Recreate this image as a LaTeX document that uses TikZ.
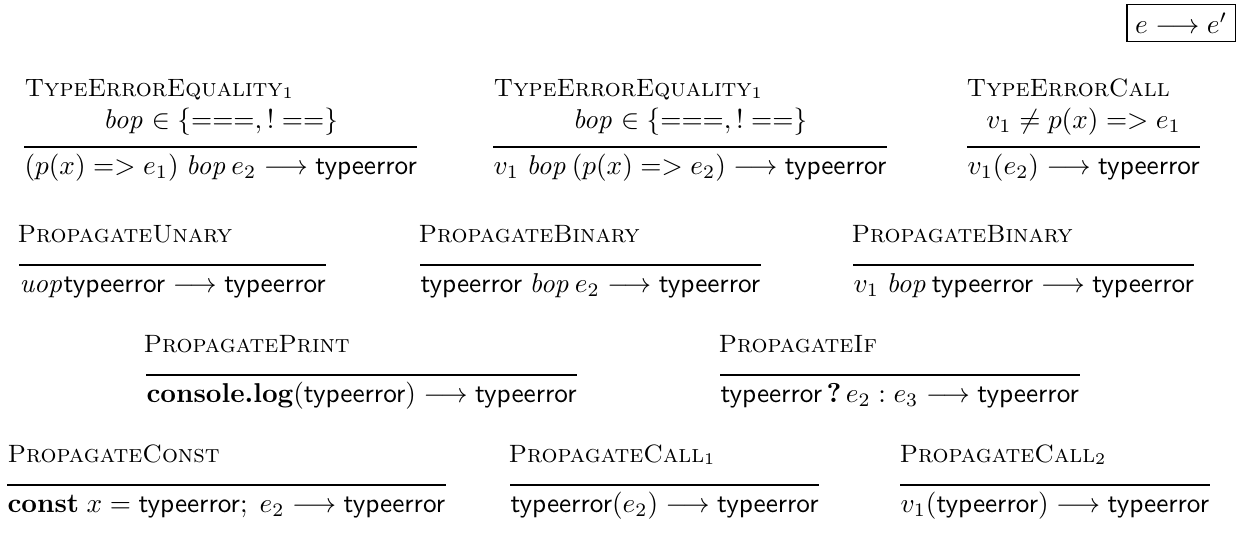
\documentclass[tikz,border=0pt]{standalone}
\usetikzlibrary{calc}
\tikzset{
	rulename/.style={anchor=base west, inner sep=0pt, font=\fontsize{9.2}{11}\selectfont},
	premise/.style={anchor=base, inner sep=0pt},
	concl/.style={anchor=base west, inner sep=0pt},
	ruleline/.style={color=black, line width=0.45pt},
	judgbox/.style={draw, line width=0.45pt, inner sep=3pt}
}
\newcommand{\terr}{\textsf{typeerror}}
\newcommand{\bopm}{\mathit{bop}}
\newcommand{\uopm}{\mathit{uop}}
\newcommand{\fatarr}{\mathrel{{=}{>}}}

\begin{document}
\begin{tikzpicture}[x=0.367pt,y=-0.367pt]
		\useasboundingbox (0,0) rectangle (1242,546);
		%%%judgement form
		\node[judgbox, anchor=north east] (judg) at (1236,4) {$e \longrightarrow e'$};
		
		%%%row 1
		\node[rulename] (n1) at (24,96) {\textsc{TypeErrorEquality}$_1$};
		\node[concl] (c1) at (24,174) {$(p(x) \fatarr e_1)\; \bopm\, e_2 \longrightarrow \terr$};
		\node[premise] (p1) at ($(c1.base)+(0,-46)$) {$\bopm \in \{===,!==\}$};
		\draw[ruleline] ($(c1.base west)+(0,-27)$) -- ($(c1.base east)+(0,-27)$);
		
		\node[rulename] (n2) at (493,96) {\textsc{TypeErrorEquality}$_1$};
		\node[concl] (c2) at (493,174) {$v_1\; \bopm\, (p(x) \fatarr e_2) \longrightarrow \terr$};
		\node[premise] (p2) at ($(c2.base)+(0,-46)$) {$\bopm \in \{===,!==\}$};
		\draw[ruleline] ($(c2.base west)+(0,-27)$) -- ($(c2.base east)+(0,-27)$);
		
		\node[rulename] (n3) at (966,96) {\textsc{TypeErrorCall}};
		\node[concl] (c3) at (967,174) {$v_1(e_2) \longrightarrow \terr$};
		\node[premise] (p3) at ($(c3.base)+(0,-46)$) {$v_1 \neq p(x) \fatarr e_1$};
		\draw[ruleline] ($(c3.base west)+(0,-27)$) -- ($(c3.base east)+(0,-27)$);
		
		%%%row 2
		\node[rulename] (n4) at (17,242) {\textsc{PropagateUnary}};
		\node[concl] (c4) at (19,292) {$\uopm\terr \longrightarrow \terr$};
		\draw[ruleline] ($(c4.base west)+(0,-27)$) -- ($(c4.base east)+(0,-27)$);
		
		\node[rulename] (n5) at (418,242) {\textsc{PropagateBinary}};
		\node[concl] (c5) at (420,292) {$\terr\; \bopm\, e_2 \longrightarrow \terr$};
		\draw[ruleline] ($(c5.base west)+(0,-27)$) -- ($(c5.base east)+(0,-27)$);
		
		\node[rulename] (n6) at (851,242) {\textsc{PropagateBinary}};
		\node[concl] (c6) at (853,292) {$v_1\; \bopm\,\terr \longrightarrow \terr$};
		\draw[ruleline] ($(c6.base west)+(0,-27)$) -- ($(c6.base east)+(0,-27)$);
		
		%%%row 3
		\node[rulename] (n7) at (143,352) {\textsc{PropagatePrint}};
		\node[concl] (c7) at (146,402) {$\textbf{console.log}(\terr) \longrightarrow \terr$};
		\draw[ruleline] ($(c7.base west)+(0,-27)$) -- ($(c7.base east)+(0,-27)$);
		
		\node[rulename] (n8) at (718,352) {\textsc{PropagateIf}};
		\node[concl] (c8) at (720,402) {$\terr\,\textbf{?}\,e_2 : e_3 \longrightarrow \terr$};
		\draw[ruleline] ($(c8.base west)+(0,-27)$) -- ($(c8.base east)+(0,-27)$);
		
		%%%row 4
		\node[rulename] (n9) at (7,462) {\textsc{PropagateConst}};
		\node[concl] (c9) at (7,512) {$\textbf{const}\; x = \terr;\; e_2 \longrightarrow \terr$};
		\draw[ruleline] ($(c9.base west)+(0,-27)$) -- ($(c9.base east)+(0,-27)$);
		
		\node[rulename] (n10) at (508,462) {\textsc{PropagateCall}$_1$};
		\node[concl] (c10) at (510,512) {$\terr(e_2) \longrightarrow \terr$};
		\draw[ruleline] ($(c10.base west)+(0,-27)$) -- ($(c10.base east)+(0,-27)$);
		
		\node[rulename] (n11) at (899,462) {\textsc{PropagateCall}$_2$};
		\node[concl] (c11) at (900,512) {$v_1(\terr) \longrightarrow \terr$};
		\draw[ruleline] ($(c11.base west)+(0,-27)$) -- ($(c11.base east)+(0,-27)$);
	\end{tikzpicture}
\end{document}
